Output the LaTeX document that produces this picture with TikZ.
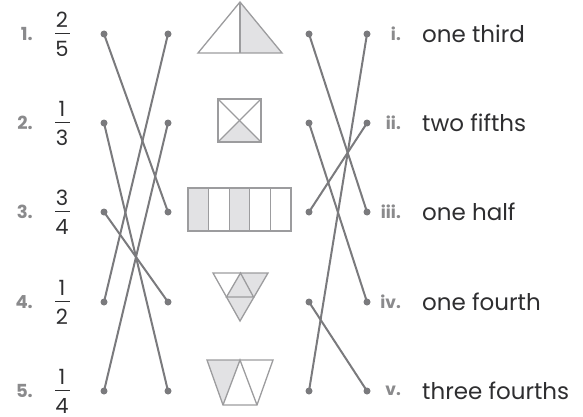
\documentclass[tikz,border=0pt]{standalone}
\usepackage{fontspec}
\setmainfont{Poppins}
\definecolor{conn}{HTML}{7A7A7D}
\definecolor{outl}{HTML}{9C9C9E}
\definecolor{shade}{HTML}{E2E2E4}
\definecolor{numc}{HTML}{8A8A8C}
\definecolor{txt}{HTML}{2E2E30}
\tikzset{
  dot/.style={circle,fill=conn,inner sep=0pt,minimum size=7pt},
  conline/.style={draw=conn,line width=2pt},
  shp/.style={draw=outl,line width=1.3pt,line join=miter},
  shfill/.style={fill=shade},
  numlbl/.style={anchor=east,text=numc,font=\fontsize{18}{20}\selectfont\bfseries,inner sep=0pt},
  fracdig/.style={text=txt,font=\fontsize{21}{23}\selectfont,inner sep=0pt},
  fbar/.style={draw=txt,line width=0.9pt},
  romlbl/.style={anchor=east,text=numc,font=\fontsize{17}{19}\selectfont\bfseries,inner sep=0pt},
  wordlbl/.style={anchor=west,text=txt,font=\fontsize{23}{25}\selectfont,inner sep=0pt}
}
\begin{document}
\begin{tikzpicture}[x=1pt,y=1pt]
\useasboundingbox (0,0) rectangle (583,416);
% left labels and fractions
\foreach \i/\y/\n/\d in {1/382/2/5,2/293/1/3,3/204/3/4,4/114/1/2,5/25/1/4}{
  \node[numlbl] (num\i) at (33,\y) {\i.};
  \node[fracdig] (fn\i) at (62,\y+14) {\n};
  \node[fracdig] (fd\i) at (62,\y-15) {\d};
  \draw[fbar] (55,\y+1) -- (70,\y+1);
}
% right labels
\foreach \i/\y/\r/\w in {1/382/i./one third,2/293/ii./two fifths,3/204/iii./one half,4/114/iv./one fourth,5/25/v./three fourths}{
  \node[romlbl] (rom\i) at (401,\y) {\r};
  \node[wordlbl] (word\i) at (422,\y) {\w};
}
% dots
\foreach \i/\y in {1/382,2/293,3/204,4/114,5/25}{
  \node[dot] (a\i) at (104,\y) {};
  \node[dot] (b\i) at (168,\y) {};
  \node[dot] (c\i) at (309,\y) {};
  \node[dot] (d\i) at (367,\y) {};
}
% connectors
\draw[conline] (a1.center) -- (b3.center);
\draw[conline] (b1.center) -- (a4.center);
\draw[conline] (a2.center) -- (b5.center);
\draw[conline] (b2.center) -- (a5.center);
\draw[conline] (a3.center) -- (b4.center);
\draw[conline] (c1.center) -- (d3.center);
\draw[conline] (d1.center) -- (c5.center);
\draw[conline] (c2.center) -- (d4.center);
\draw[conline] (d2.center) -- (c3.center);
\draw[conline] (c4.center) -- (d5.center);
% shape 1: triangle, right half shaded
\fill[shfill] (240,414) -- (282,363) -- (240,363) -- cycle;
\draw[shp] (240,414) -- (282,363) -- (198,363) -- cycle;
\draw[shp] (240,414) -- (240,363);
% shape 2: square with X, bottom quarter shaded
\fill[shfill] (218,274) -- (261,274) -- (239.5,295.5) -- cycle;
\draw[shp] (218,274) rectangle (261,317);
\draw[shp] (218,274) -- (261,317);
\draw[shp] (218,317) -- (261,274);
% shape 3: five bars, two shaded
\fill[shfill] (188,185) rectangle (208.6,228);
\fill[shfill] (229.2,185) rectangle (249.8,228);
\draw[shp] (188,185) rectangle (291,228);
\foreach \k in {1,2,3,4}{\draw[shp] (188+20.6*\k,185) -- (188+20.6*\k,228);}
% shape 4: inverted triangle, three quarters shaded
\fill[shfill] (240.5,143) -- (268,143) -- (240,95) -- (226.5,119) -- cycle;
\draw[shp] (213,143) -- (268,143) -- (240,95) -- cycle;
\draw[shp] (240.5,143) -- (226.5,119) -- (253.5,119) -- cycle;
% shape 5: trapezoid, one third shaded
\fill[shfill] (207,56) -- (240,56) -- (223,11) -- cycle;
\draw[shp] (207,56) -- (273,56) -- (257,11) -- (223,11) -- cycle;
\draw[shp] (223,11) -- (240,56) -- (257,11);
\end{tikzpicture}
\end{document}
